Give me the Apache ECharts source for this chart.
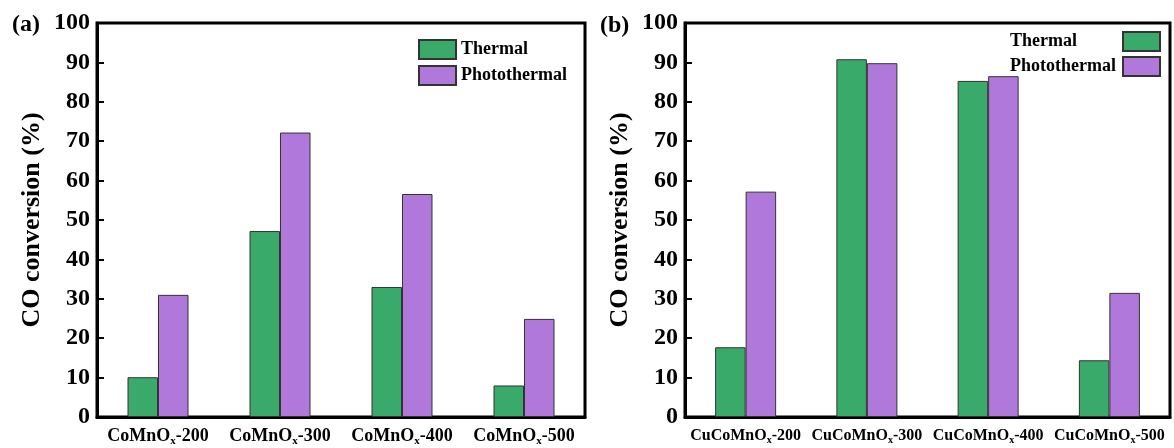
<!DOCTYPE html>
<html>
<head>
<meta charset="utf-8">
<script src="https://cdn.jsdelivr.net/npm/echarts@6/dist/echarts.min.js"></script>
<style>
  html, body { margin: 0; padding: 0; background: #fff; }
  #chart { width: 1174px; height: 448px; }
</style>
</head>
<body>
<div id="chart"></div>
<script>
// Catalyst samples (calcination temperature suffix)
const catalystsA = ['CoMnO', 'CoMnO', 'CoMnO', 'CoMnO'];
const catalystsB = ['CuCoMnO', 'CuCoMnO', 'CuCoMnO', 'CuCoMnO'];
const temps = ['-200', '-300', '-400', '-500'];

// CO conversion (%) – panel (a): CoMnOx
const thermalA = [10.1, 47.2, 33.0, 8.0];
const photothermalA = [31.0, 72.2, 56.6, 24.9];

// CO conversion (%) – panel (b): CuCoMnOx
const thermalB = [17.7, 90.8, 85.3, 14.4];
const photothermalB = [57.2, 89.8, 86.5, 31.5];

const yTicks = { min: 0, max: 100, interval: 10 };

const FONT = '"Liberation Serif", "Times New Roman", serif';
const GREEN = '#3aaa6b';
const PURPLE = '#b178dc';
const EDGE = '#333333';

function catLabels(prefixes) {
  return prefixes.map((p, i) => '{m|' + p + '}{s|x}{m|' + temps[i] + '}');
}

function xAxisFor(gridIndex, prefixes, size) {
  return {
    type: 'category',
    gridIndex: gridIndex,
    data: catLabels(prefixes),
    axisLine: { lineStyle: { color: '#000', width: 3 } },
    axisTick: { show: false },
    axisLabel: {
      margin: 9,
      interval: 0,
      rich: {
        m: { fontFamily: FONT, fontWeight: 'bold', fontSize: size, color: '#000' },
        s: { fontFamily: FONT, fontWeight: 'bold', fontSize: Math.round(size * 0.6), color: '#000',
             verticalAlign: 'bottom', padding: [Math.round(size * 0.55), 0, 0, 0] }
      }
    }
  };
}

function yAxisFor(gridIndex) {
  return {
    type: 'value',
    gridIndex: gridIndex,
    min: yTicks.min,
    max: yTicks.max,
    interval: yTicks.interval,
    name: 'CO conversion (%)',
    nameLocation: 'middle',
    nameGap: 52,
    nameTextStyle: { fontFamily: FONT, fontWeight: 'bold', fontSize: 26, color: '#000' },
    axisLine: { show: true, lineStyle: { color: '#000', width: 3 } },
    axisTick: { show: true, inside: true, length: 7, lineStyle: { color: '#000', width: 2 } },
    splitLine: { show: false },
    axisLabel: { fontFamily: FONT, fontWeight: 'bold', fontSize: 24, color: '#000', margin: 7 }
  };
}

function barSeries(name, data, color, axisIndex) {
  return {
    name: name,
    type: 'bar',
    xAxisIndex: axisIndex,
    yAxisIndex: axisIndex,
    data: data,
    barWidth: 30.5,
    barGap: '0%',
    itemStyle: { color: color, borderColor: EDGE, borderWidth: 1 },
    emphasis: { disabled: true }
  };
}

const legendText = { fontFamily: FONT, fontWeight: 'bold', fontSize: 18, color: '#000' };

const option = {
  backgroundColor: '#fff',
  animation: false,
  graphic: [
    { type: 'text', left: 12, top: 13, style: { text: '(a)', font: 'bold 24px ' + FONT, fill: '#000' } },
    { type: 'text', left: 600, top: 14, style: { text: '(b)', font: 'bold 24px ' + FONT, fill: '#000' } }
  ],
  grid: [
    { left: 97, right: 589, top: 23, bottom: 31, show: true, borderColor: '#000', borderWidth: 3, backgroundColor: 'transparent' },
    { left: 685, right: 4, top: 23, bottom: 31, show: true, borderColor: '#000', borderWidth: 3, backgroundColor: 'transparent' }
  ],
  legend: [
    {
      orient: 'vertical',
      left: 418, top: 39,
      padding: 0,
      icon: 'rect',
      itemWidth: 37, itemHeight: 19, itemGap: 5,
      textStyle: legendText,
      data: [{ name: 'Thermal' }, { name: 'Photothermal' }],
      selectedMode: false
    },
    // second panel: labels on the left (left-aligned), swatches on the right
    {
      orient: 'vertical',
      left: 1010, top: 31,
      padding: 0,
      align: 'right',
      icon: 'rect',
      itemWidth: 37, itemHeight: 19, itemGap: 4,
      textStyle: {
        rich: {
          t: { fontFamily: FONT, fontWeight: 'bold', fontSize: 18, color: '#000', width: 108, align: 'left' }
        }
      },
      formatter: function (n) { return '{t|' + n.trim() + '}'; },
      data: [{ name: 'Thermal ' }, { name: 'Photothermal ' }],
      selectedMode: false
    }
  ],
  xAxis: [xAxisFor(0, catalystsA, 18), xAxisFor(1, catalystsB, 16)],
  yAxis: [yAxisFor(0), yAxisFor(1)],
  series: [
    barSeries('Thermal', thermalA, GREEN, 0),
    barSeries('Photothermal', photothermalA, PURPLE, 0),
    barSeries('Thermal ', thermalB, GREEN, 1),
    barSeries('Photothermal ', photothermalB, PURPLE, 1)
  ]
};

const chart = echarts.init(document.getElementById('chart'), null, { renderer: 'canvas' });
chart.setOption(option);
</script>
</body>
</html>
